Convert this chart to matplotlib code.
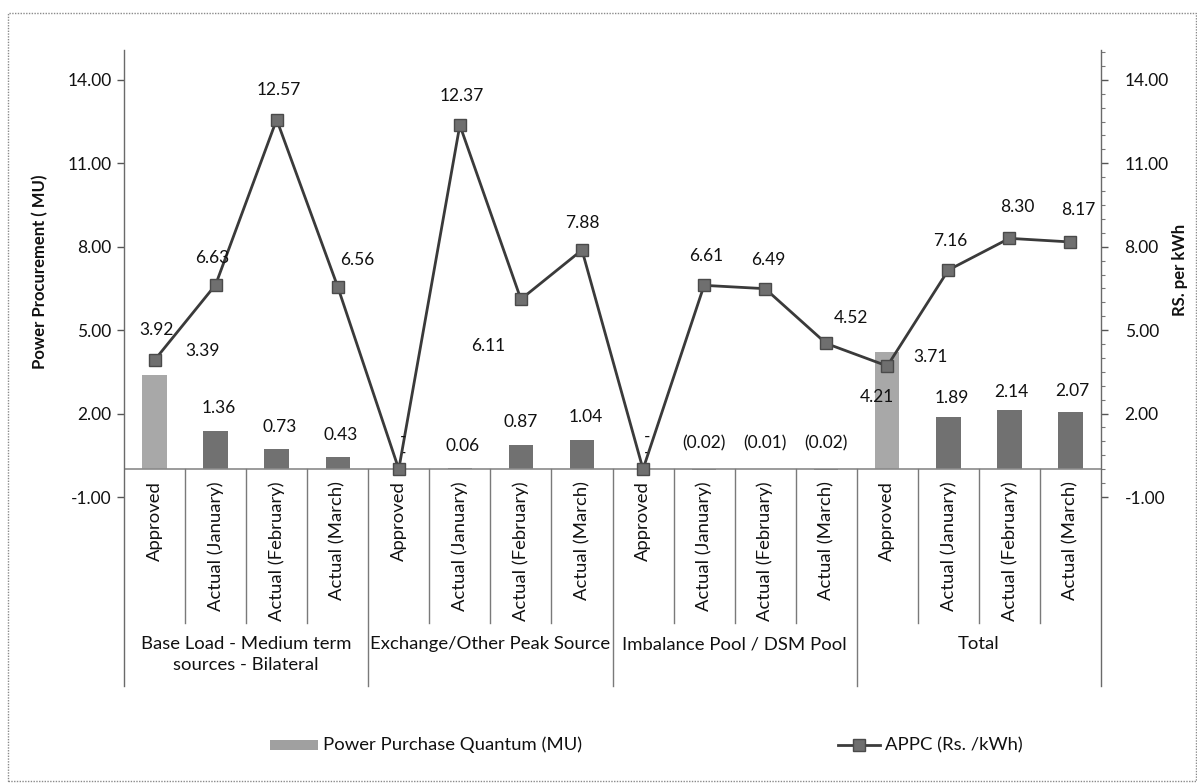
import matplotlib
matplotlib.use("Agg")
import matplotlib.pyplot as plt
from matplotlib.lines import Line2D
from matplotlib.patches import Rectangle
import matplotlib.transforms as mtransforms
import numpy as np

# ---------------- data ----------------
groups = ["Base Load - Medium term\nsources - Bilateral", "Exchange/Other Peak Source",
          "Imbalance Pool / DSM Pool", "Total"]
subcats = ["Approved", "Actual (January)", "Actual (February)", "Actual (March)"]
categories = subcats * 4
quantum = [3.39, 1.36, 0.73, 0.43,
           0.00, 0.06, 0.87, 1.04,
           0.00, -0.02, -0.01, -0.02,
           4.21, 1.89, 2.14, 2.07]
appc = [3.92, 6.63, 12.57, 6.56,
        0.00, 12.37, 6.11, 7.88,
        0.00, 6.61, 6.49, 4.52,
        3.71, 7.16, 8.30, 8.17]
yticks = [-1, 2, 5, 8, 11, 14]
bar_name = "Power Purchase Quantum (MU)"
line_name = "APPC (Rs. /kWh)"

# label offsets (pixels) – styling only
line_off = [(2, 30), (-3, 27), (2, 30), (20, 27), (4, 32), (2, 29), (-33, -47), (0, 27),
            (4, 32), (2, 29), (3, 29), (25, 25), (43, 9), (2, 29), (8, 31), (8, 32)]
bar_off = [(48, 24), (3, 23), (3, 22), (3, 22), (4, 16), (3, 22), (0, 23), (4, 23),
           (4, 16), (0, 26), (0, 26), (0, 26), (-10, -45), (3, 19), (2, 18), (2, 21)]

FONT = "Lato"
plt.rcParams['font.family'] = [FONT, 'DejaVu Sans']
FS = 12.5      # numbers
FT = 13.3      # words
TXT = "#111111"

W, H = 1197, 783
fig = plt.figure(figsize=(W / 100, H / 100), dpi=100)
fig.patch.set_facecolor("white")

def fx(px):
    return px / W

def fy(py):
    return 1 - py / H

# outer dotted frame
fig.add_artist(Rectangle((fx(8), fy(781)), fx(1188) - fx(0), fy(13) - fy(781),
                         transform=fig.transFigure, fill=False, edgecolor="#8a8a8a",
                         lw=1.0, ls=(0, (1, 1))))

L, R, T, B = 124, 1101, 52, 497
ax = fig.add_axes([fx(L), fy(B), fx(R) - fx(L), fy(T) - fy(B)])
ax2 = ax.twinx()

n = len(categories)
x = np.arange(n)
ax.set_xlim(-0.5, n - 0.5)
for a in (ax, ax2):
    a.set_ylim(-1, 15)
    a.set_yticks(yticks)
    a.set_yticklabels([f"{v:.2f}" for v in yticks])
    for s in a.spines.values():
        s.set_visible(False)
    a.set_facecolor("none")

ax.tick_params(axis="y", direction="out", length=5, width=1, color="#555555",
               labelsize=FS, labelcolor=TXT, pad=4)
ax.tick_params(axis="x", bottom=False, labelbottom=False)
ax2.set_yticks(np.arange(-1, 15.01, 0.5), minor=True)
ax2.tick_params(axis="y", which="major", direction="out", length=5, width=1,
                color="#555555", labelsize=FS, labelcolor=TXT, pad=12)
ax2.tick_params(axis="y", which="minor", direction="out", length=3, width=0.8,
                color="#777777")

# bars
bar_colors = ["#a8a8a8" if c == "Approved" else "#717171" for c in categories]
ax.bar(x, quantum, width=0.4, color=bar_colors, edgecolor="none", zorder=2)
ax.axhline(0, color="#8a8a8a", lw=1.2, zorder=3)

# line
ax2.plot(x, appc, color="#3a3a3a", lw=2.0, marker="s", markersize=9,
         markerfacecolor="#6f6f6f", markeredgecolor="#4a4a4a", zorder=5)

def fmt(v):
    if abs(v) < 1e-9:
        return "-"
    if v < 0:
        return f"({abs(v):.2f})"
    return f"{v:.2f}"

for i in range(n):
    ax2.annotate(fmt(appc[i]), (x[i], appc[i]), xytext=line_off[i],
                 textcoords="offset pixels", ha="center", va="center",
                 fontsize=FS, color=TXT, zorder=6)
    ax.annotate(fmt(quantum[i]), (x[i], max(quantum[i], 0)), xytext=bar_off[i],
                textcoords="offset pixels", ha="center", va="center",
                fontsize=FS, color=TXT, zorder=6)

# spines extended down through category area
tr = mtransforms.blended_transform_factory(ax.transData, fig.transFigure)
for px in (L, R):
    fig.add_artist(Line2D([fx(px), fx(px)], [fy(50), fy(686)], transform=fig.transFigure,
                          color="#6a6a6a", lw=1.0))

# category separators
for k in range(1, n):
    xb = k - 0.5
    bottom = 686 if k % 4 == 0 else 623
    fig.add_artist(Line2D([xb, xb], [fy(469), fy(bottom)], transform=tr,
                          color="#7a7a7a", lw=1.0))

# category labels
for i, c in enumerate(categories):
    fig.text(0, fy(481), c, transform=tr, rotation=90, ha="center", va="top",
             fontsize=FT, color=TXT).set_x(x[i])

# group labels
for g, name in enumerate(groups):
    fig.text(0, fy(636), name, transform=tr, ha="center", va="top", fontsize=FT,
             color=TXT, linespacing=1.4).set_x(g * 4 + 1.5)

# axis titles
fig.text(fx(40), fy(272), "Power Procurement ( MU)", rotation=90, ha="center",
         va="center", fontsize=FS - 0.5, fontweight="bold", color=TXT)
fig.text(fx(1180), fy(270), "RS. per kWh", rotation=90, ha="center",
         va="center", fontsize=FS - 0.5, fontweight="bold", color=TXT)

# legend (manual)
fig.add_artist(Rectangle((fx(270), fy(750)), fx(318) - fx(270), fy(740) - fy(750),
                         transform=fig.transFigure, facecolor="#a0a0a0", edgecolor="none"))
fig.text(fx(323), fy(745), bar_name, ha="left", va="center", fontsize=FT, color=TXT)
fig.add_artist(Line2D([fx(838), fx(880)], [fy(745), fy(745)], transform=fig.transFigure,
                      color="#3c3c3c", lw=2.0))
fig.add_artist(Line2D([fx(859)], [fy(745)], transform=fig.transFigure,
                      color="#3c3c3c", lw=0, marker="s", markersize=8,
                      markerfacecolor="#6f6f6f", markeredgecolor="#4a4a4a"))
fig.text(fx(885), fy(745), line_name, ha="left", va="center", fontsize=FT, color=TXT)

fig.savefig("out.png", dpi=100, facecolor="white")
